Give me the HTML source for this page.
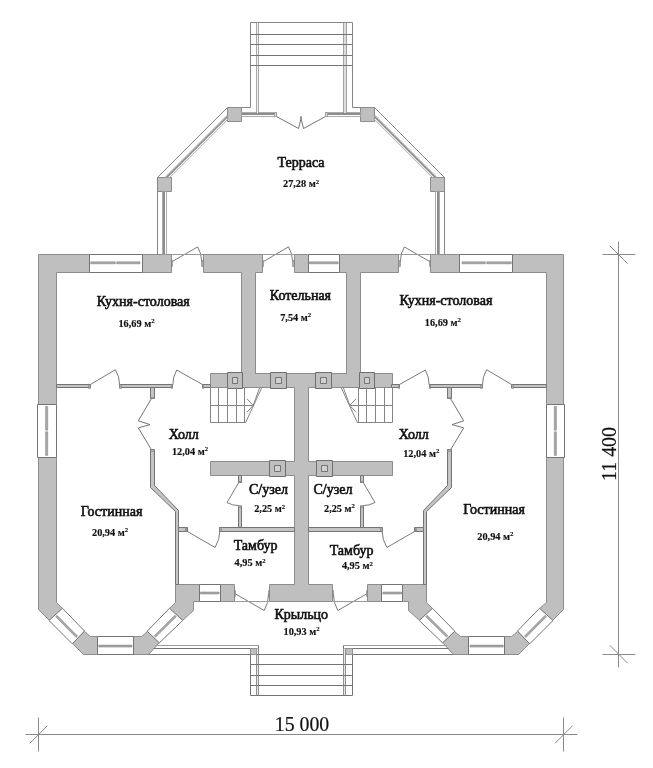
<!DOCTYPE html>
<html lang="ru"><head><meta charset="utf-8"><title>План</title>
<style>
html,body{margin:0;padding:0;background:#fff;overflow:hidden;}
svg{display:block;}
text{font-family:"Liberation Serif",serif;fill:#111;stroke:#111;stroke-width:0.6px;}
text.a{stroke-width:0.15px;}
text.d{stroke-width:0.2px;}
svg{filter:grayscale(1);}
</style></head><body>
<svg width="653" height="768" viewBox="0 0 653 768">
<rect width="653" height="768" fill="#fff"/>
<polygon points="38.5,254.5 89.5,254.5 89.5,272.5 56.5,272.5 56.5,404.5 38.5,404.5" fill="#bfbfbf" stroke="#8c8c8c" stroke-width="1"/>
<polygon points="563.5,254.5 512.5,254.5 512.5,272.5 546.5,272.5 546.5,404.5 563.5,404.5" fill="#bfbfbf" stroke="#8c8c8c" stroke-width="1"/>
<polygon points="38.5,457.5 56.5,457.5 56.5,602.5 62.5,608.5 49.5,620.5 38.5,609.5" fill="#bfbfbf" stroke="#8c8c8c" stroke-width="1"/>
<polygon points="563.5,457.5 546.5,457.5 546.5,602.5 539.5,608.5 552.5,620.5 563.5,609.5" fill="#bfbfbf" stroke="#8c8c8c" stroke-width="1"/>
<polygon points="84.5,631.5 90.5,636.5 97.5,636.5 97.5,654.5 83.5,654.5 72.5,643.5" fill="#bfbfbf" stroke="#8c8c8c" stroke-width="1"/>
<polygon points="517.5,631.5 511.5,636.5 504.5,636.5 504.5,654.5 518.5,654.5 529.5,643.5" fill="#bfbfbf" stroke="#8c8c8c" stroke-width="1"/>
<polygon points="133.5,636.5 141.5,636.5 147.5,631.5 159.5,642.5 148.5,654.5 133.5,654.5" fill="#bfbfbf" stroke="#8c8c8c" stroke-width="1"/>
<polygon points="468.5,636.5 460.5,636.5 454.5,631.5 442.5,642.5 453.5,654.5 468.5,654.5" fill="#bfbfbf" stroke="#8c8c8c" stroke-width="1"/>
<polygon points="175.5,584.5 199.5,584.5 199.5,601.5 193.5,601.5 193.5,610.5 182.5,620.5 169.5,608.5 175.5,602.5" fill="#bfbfbf" stroke="#8c8c8c" stroke-width="1"/>
<polygon points="426.5,584.5 402.5,584.5 402.5,601.5 408.5,601.5 408.5,610.5 419.5,620.5 432.5,608.5 426.5,602.5" fill="#bfbfbf" stroke="#8c8c8c" stroke-width="1"/>
<polygon points="142.5,254.5 171.5,254.5 171.5,272.5 142.5,272.5" fill="#bfbfbf" stroke="#8c8c8c" stroke-width="1"/>
<polygon points="459.5,254.5 430.5,254.5 430.5,272.5 459.5,272.5" fill="#bfbfbf" stroke="#8c8c8c" stroke-width="1"/>
<polygon points="203.5,254.5 262.5,254.5 262.5,272.5 255.5,272.5 255.5,373.5 241.5,373.5 241.5,272.5 203.5,272.5" fill="#bfbfbf" stroke="#8c8c8c" stroke-width="1"/>
<polygon points="398.5,254.5 339.5,254.5 339.5,272.5 346.5,272.5 346.5,373.5 360.5,373.5 360.5,272.5 398.5,272.5" fill="#bfbfbf" stroke="#8c8c8c" stroke-width="1"/>
<polygon points="294.5,254.5 308.5,254.5 308.5,272.5 294.5,272.5" fill="#bfbfbf" stroke="#8c8c8c" stroke-width="1"/>
<polygon points="220.5,584.5 234.5,584.5 234.5,601.5 220.5,601.5" fill="#bfbfbf" stroke="#8c8c8c" stroke-width="1"/>
<polygon points="381.5,584.5 367.5,584.5 367.5,601.5 381.5,601.5" fill="#bfbfbf" stroke="#8c8c8c" stroke-width="1"/>
<polygon points="269.5,584.5 294.5,584.5 294.5,475.5 210.5,475.5 210.5,461.5 294.5,461.5 294.5,387.5 210.5,387.5 210.5,373.5 392.5,373.5 392.5,387.5 308.5,387.5 308.5,461.5 392.5,461.5 392.5,475.5 308.5,475.5 308.5,584.5 332.5,584.5 332.5,601.5 269.5,601.5" fill="#bfbfbf" stroke="#8c8c8c" stroke-width="1"/>
<polygon points="242.1,372.0 255.0,372.0 255.0,375.2 242.1,375.2" fill="#bfbfbf" stroke="none" stroke-width="1"/>
<polygon points="359.9,372.0 347.0,372.0 347.0,375.2 359.9,375.2" fill="#bfbfbf" stroke="none" stroke-width="1"/>
<polygon points="227.5,372.5 242.5,372.5 242.5,388.5 227.5,388.5" fill="#bfbfbf" stroke="#6e6e6e" stroke-width="1"/>
<polygon points="374.5,372.5 359.5,372.5 359.5,388.5 374.5,388.5" fill="#bfbfbf" stroke="#6e6e6e" stroke-width="1"/>
<polygon points="232.5,377.5 237.5,377.5 237.5,383.5 232.5,383.5" fill="#d0d0d0" stroke="#747474" stroke-width="1"/>
<polygon points="369.5,377.5 364.5,377.5 364.5,383.5 369.5,383.5" fill="#d0d0d0" stroke="#747474" stroke-width="1"/>
<polygon points="270.5,372.5 286.5,372.5 286.5,388.5 270.5,388.5" fill="#bfbfbf" stroke="#6e6e6e" stroke-width="1"/>
<polygon points="331.5,372.5 315.5,372.5 315.5,388.5 331.5,388.5" fill="#bfbfbf" stroke="#6e6e6e" stroke-width="1"/>
<polygon points="275.5,377.5 281.5,377.5 281.5,383.5 275.5,383.5" fill="#d0d0d0" stroke="#747474" stroke-width="1"/>
<polygon points="326.5,377.5 320.5,377.5 320.5,383.5 326.5,383.5" fill="#d0d0d0" stroke="#747474" stroke-width="1"/>
<polygon points="269.5,460.5 285.5,460.5 285.5,476.5 269.5,476.5" fill="#bfbfbf" stroke="#6e6e6e" stroke-width="1"/>
<polygon points="332.5,460.5 316.5,460.5 316.5,476.5 332.5,476.5" fill="#bfbfbf" stroke="#6e6e6e" stroke-width="1"/>
<polygon points="274.5,465.5 280.5,465.5 280.5,471.5 274.5,471.5" fill="#d0d0d0" stroke="#747474" stroke-width="1"/>
<polygon points="327.5,465.5 321.5,465.5 321.5,471.5 327.5,471.5" fill="#d0d0d0" stroke="#747474" stroke-width="1"/>
<polygon points="89.5,254.5 142.5,254.5 142.5,272.5 89.5,272.5" fill="#fff" stroke="#747474" stroke-width="1"/>
<polygon points="512.5,254.5 459.5,254.5 459.5,272.5 512.5,272.5" fill="#fff" stroke="#747474" stroke-width="1"/>
<polygon points="90.7,261.8 115.3,261.8 115.3,263.8 90.7,263.8" fill="#a8a8a8" stroke="#7c7c7c" stroke-width="0.5"/>
<polygon points="511.3,261.8 486.7,261.8 486.7,263.8 511.3,263.8" fill="#a8a8a8" stroke="#7c7c7c" stroke-width="0.5"/>
<polygon points="116.7,261.8 140.0,261.8 140.0,263.8 116.7,263.8" fill="#a8a8a8" stroke="#7c7c7c" stroke-width="0.5"/>
<polygon points="485.3,261.8 462.0,261.8 462.0,263.8 485.3,263.8" fill="#a8a8a8" stroke="#7c7c7c" stroke-width="0.5"/>
<polygon points="97.5,636.5 133.5,636.5 133.5,654.5 97.5,654.5" fill="#fff" stroke="#747474" stroke-width="1"/>
<polygon points="504.5,636.5 468.5,636.5 468.5,654.5 504.5,654.5" fill="#fff" stroke="#747474" stroke-width="1"/>
<polygon points="98.8,645.1 131.9,645.1 131.9,647.1 98.8,647.1" fill="#a8a8a8" stroke="#7c7c7c" stroke-width="0.5"/>
<polygon points="503.2,645.1 470.1,645.1 470.1,647.1 503.2,647.1" fill="#a8a8a8" stroke="#7c7c7c" stroke-width="0.5"/>
<polygon points="199.5,584.5 220.5,584.5 220.5,601.5 199.5,601.5" fill="#fff" stroke="#747474" stroke-width="1"/>
<polygon points="402.5,584.5 381.5,584.5 381.5,601.5 402.5,601.5" fill="#fff" stroke="#747474" stroke-width="1"/>
<polygon points="200.5,592.0 219.1,592.0 219.1,594.0 200.5,594.0" fill="#a8a8a8" stroke="#7c7c7c" stroke-width="0.5"/>
<polygon points="401.5,592.0 382.9,592.0 382.9,594.0 401.5,594.0" fill="#a8a8a8" stroke="#7c7c7c" stroke-width="0.5"/>
<polygon points="308.5,254.5 339.5,254.5 339.5,272.5 308.5,272.5" fill="#fff" stroke="#747474" stroke-width="1"/>
<polygon points="309.5,261.8 338.1,261.8 338.1,263.8 309.5,263.8" fill="#a8a8a8" stroke="#7c7c7c" stroke-width="0.5"/>
<polygon points="37.5,404.5 56.5,404.5 56.5,457.5 37.5,457.5" fill="#fff" stroke="#747474" stroke-width="1"/>
<polygon points="564.5,404.5 546.5,404.5 546.5,457.5 564.5,457.5" fill="#fff" stroke="#747474" stroke-width="1"/>
<polygon points="45.6,406.4 47.7,406.4 47.7,430.2 45.6,430.2" fill="#a8a8a8" stroke="#7c7c7c" stroke-width="0.5"/>
<polygon points="556.4,406.4 554.3,406.4 554.3,430.2 556.4,430.2" fill="#a8a8a8" stroke="#7c7c7c" stroke-width="0.5"/>
<polygon points="45.6,431.8 47.7,431.8 47.7,455.4 45.6,455.4" fill="#a8a8a8" stroke="#7c7c7c" stroke-width="0.5"/>
<polygon points="556.4,431.8 554.3,431.8 554.3,455.4 556.4,455.4" fill="#a8a8a8" stroke="#7c7c7c" stroke-width="0.5"/>
<polygon points="62.5,608.3 49.0,620.5 72.3,643.8 84.5,631.0" fill="#fff" stroke="#747474" stroke-width="1"/>
<polygon points="539.5,608.3 553.0,620.5 529.7,643.8 517.5,631.0" fill="#fff" stroke="#747474" stroke-width="1"/>
<polygon points="55.6,616.7 76.1,637.5 77.6,636.1 57.0,615.3" fill="#a8a8a8" stroke="#7c7c7c" stroke-width="0.5"/>
<polygon points="546.5,616.7 525.9,637.5 524.4,636.1 545.0,615.3" fill="#a8a8a8" stroke="#7c7c7c" stroke-width="0.5"/>
<polygon points="147.2,631.2 159.4,642.8 182.7,620.5 169.5,608.3" fill="#fff" stroke="#747474" stroke-width="1"/>
<polygon points="454.8,631.2 442.6,642.8 419.3,620.5 432.5,608.3" fill="#fff" stroke="#747474" stroke-width="1"/>
<polygon points="155.6,637.1 176.3,616.7 174.9,615.2 154.2,635.7" fill="#a8a8a8" stroke="#7c7c7c" stroke-width="0.5"/>
<polygon points="446.4,637.1 425.7,616.7 427.1,615.2 447.9,635.7" fill="#a8a8a8" stroke="#7c7c7c" stroke-width="0.5"/>
<polygon points="56.5,384.5 90.5,384.5 90.5,387.5 56.5,387.5" fill="#c4c4c4" stroke="#747474" stroke-width="1"/>
<polygon points="546.5,384.5 511.5,384.5 511.5,387.5 546.5,387.5" fill="#c4c4c4" stroke="#747474" stroke-width="1"/>
<polygon points="119.5,384.5 172.5,384.5 172.5,387.5 119.5,387.5" fill="#c4c4c4" stroke="#747474" stroke-width="1"/>
<polygon points="482.5,384.5 429.5,384.5 429.5,387.5 482.5,387.5" fill="#c4c4c4" stroke="#747474" stroke-width="1"/>
<polygon points="202.5,384.5 210.5,384.5 210.5,387.5 202.5,387.5" fill="#c4c4c4" stroke="#747474" stroke-width="1"/>
<polygon points="399.5,384.5 391.5,384.5 391.5,387.5 399.5,387.5" fill="#c4c4c4" stroke="#747474" stroke-width="1"/>
<polygon points="150.5,387.5 154.5,387.5 154.5,398.5 150.5,398.5" fill="#c4c4c4" stroke="#747474" stroke-width="1"/>
<polygon points="451.5,387.5 447.5,387.5 447.5,398.5 451.5,398.5" fill="#c4c4c4" stroke="#747474" stroke-width="1"/>
<polygon points="150.5,449.5 154.5,449.5 154.5,485.5 178.5,510.5 178.5,584.5 175.5,584.5 175.5,511.5 150.5,487.5" fill="#c4c4c4" stroke="#747474" stroke-width="1"/>
<polygon points="451.5,449.5 447.5,449.5 447.5,485.5 423.5,510.5 423.5,584.5 426.5,584.5 426.5,511.5 451.5,487.5" fill="#c4c4c4" stroke="#747474" stroke-width="1"/>
<polygon points="178.5,527.5 187.5,527.5 187.5,531.5 178.5,531.5" fill="#c4c4c4" stroke="#747474" stroke-width="1"/>
<polygon points="423.5,527.5 414.5,527.5 414.5,531.5 423.5,531.5" fill="#c4c4c4" stroke="#747474" stroke-width="1"/>
<polygon points="219.5,527.5 294.5,527.5 294.5,531.5 219.5,531.5" fill="#c4c4c4" stroke="#747474" stroke-width="1"/>
<polygon points="308.5,527.5 382.5,527.5 382.5,531.5 308.5,531.5" fill="#c4c4c4" stroke="#747474" stroke-width="1"/>
<polygon points="238.5,475.5 241.5,475.5 241.5,482.5 238.5,482.5" fill="#c4c4c4" stroke="#747474" stroke-width="1"/>
<polygon points="363.5,475.5 360.5,475.5 360.5,482.5 363.5,482.5" fill="#c4c4c4" stroke="#747474" stroke-width="1"/>
<polygon points="238.5,506.5 241.5,506.5 241.5,527.5 238.5,527.5" fill="#c4c4c4" stroke="#747474" stroke-width="1"/>
<polygon points="363.5,506.5 360.5,506.5 360.5,527.5 363.5,527.5" fill="#c4c4c4" stroke="#747474" stroke-width="1"/>
<path d="M90.3 384.6 L115.4 369.7 A29.2 29.2 0 0 1 119.6 384.6" fill="none" stroke="#7a7a7a" stroke-width="1"/>
<path d="M511.7 384.6 L486.6 369.7 A29.2 29.2 0 0 0 482.4 384.6" fill="none" stroke="#7a7a7a" stroke-width="1"/>
<polygon points="88.5,384.5 90.5,384.5 90.5,388.5 88.5,388.5" fill="#aaa" stroke="#747474" stroke-width="0.5"/>
<polygon points="513.5,384.5 511.5,384.5 511.5,388.5 513.5,388.5" fill="#aaa" stroke="#747474" stroke-width="0.5"/>
<polygon points="119.5,384.5 121.5,384.5 121.5,388.5 119.5,388.5" fill="#aaa" stroke="#747474" stroke-width="0.5"/>
<polygon points="482.5,384.5 480.5,384.5 480.5,388.5 482.5,388.5" fill="#aaa" stroke="#747474" stroke-width="0.5"/>
<path d="M203.0 384.8 L176.7 370.0 A30.2 30.2 0 0 0 172.8 384.8" fill="none" stroke="#7a7a7a" stroke-width="1"/>
<path d="M399.0 384.8 L425.3 370.0 A30.2 30.2 0 0 1 429.2 384.8" fill="none" stroke="#7a7a7a" stroke-width="1"/>
<polygon points="171.5,384.5 172.5,384.5 172.5,388.5 171.5,388.5" fill="#aaa" stroke="#747474" stroke-width="0.5"/>
<polygon points="430.5,384.5 429.5,384.5 429.5,388.5 430.5,388.5" fill="#aaa" stroke="#747474" stroke-width="0.5"/>
<polygon points="202.5,384.5 203.5,384.5 203.5,388.5 202.5,388.5" fill="#aaa" stroke="#747474" stroke-width="0.5"/>
<polygon points="399.5,384.5 398.5,384.5 398.5,388.5 399.5,388.5" fill="#aaa" stroke="#747474" stroke-width="0.5"/>
<path d="M172.0 261.7 L197.7 246.9 A29.7 29.7 0 0 1 201.7 261.7" fill="none" stroke="#7a7a7a" stroke-width="1"/>
<path d="M430.0 261.7 L404.3 246.9 A29.7 29.7 0 0 0 400.3 261.7" fill="none" stroke="#7a7a7a" stroke-width="1"/>
<polyline points="171.5,254.5 203.5,254.5" fill="none" stroke="#9a9a9a" stroke-width="1"/>
<polyline points="430.5,254.5 398.5,254.5" fill="none" stroke="#9a9a9a" stroke-width="1"/>
<polygon points="171.5,260.5 172.5,260.5 172.5,266.5 171.5,266.5" fill="#aaa" stroke="#747474" stroke-width="0.5"/>
<polygon points="430.5,260.5 429.5,260.5 429.5,266.5 430.5,266.5" fill="#aaa" stroke="#747474" stroke-width="0.5"/>
<polygon points="201.5,260.5 203.5,260.5 203.5,266.5 201.5,266.5" fill="#aaa" stroke="#747474" stroke-width="0.5"/>
<polygon points="400.5,260.5 398.5,260.5 398.5,266.5 400.5,266.5" fill="#aaa" stroke="#747474" stroke-width="0.5"/>
<path d="M263.3 261.7 L288.5 246.8 A29.3 29.3 0 0 1 292.6 261.7" fill="none" stroke="#7a7a7a" stroke-width="1"/>
<polyline points="262.5,254.5 294.5,254.5" fill="none" stroke="#9a9a9a" stroke-width="1"/>
<polygon points="262.5,260.5 263.5,260.5 263.5,266.5 262.5,266.5" fill="#aaa" stroke="#747474" stroke-width="0.5"/>
<polygon points="292.5,260.5 294.5,260.5 294.5,266.5 292.5,266.5" fill="#aaa" stroke="#747474" stroke-width="0.5"/>
<polyline points="151.2,399.0 138.3,420.8 150.0,424.6 138.3,427.9 151.2,449.4" fill="none" stroke="#747474" stroke-width="1"/>
<polyline points="450.8,399.0 463.7,420.8 452.0,424.6 463.7,427.9 450.8,449.4" fill="none" stroke="#747474" stroke-width="1"/>
<polygon points="150.5,397.5 154.5,397.5 154.5,398.5 150.5,398.5" fill="#aaa" stroke="#747474" stroke-width="0.5"/>
<polygon points="451.5,397.5 447.5,397.5 447.5,398.5 451.5,398.5" fill="#aaa" stroke="#747474" stroke-width="0.5"/>
<polygon points="150.5,449.5 154.5,449.5 154.5,451.5 150.5,451.5" fill="#aaa" stroke="#747474" stroke-width="0.5"/>
<polygon points="451.5,449.5 447.5,449.5 447.5,451.5 451.5,451.5" fill="#aaa" stroke="#747474" stroke-width="0.5"/>
<path d="M186.6 531.0 L215.1 547.5 A32.9 32.9 0 0 0 219.9 531.0" fill="none" stroke="#7a7a7a" stroke-width="1"/>
<path d="M415.4 531.0 L386.9 547.5 A32.9 32.9 0 0 1 382.1 531.0" fill="none" stroke="#7a7a7a" stroke-width="1"/>
<polygon points="185.5,527.5 186.5,527.5 186.5,531.5 185.5,531.5" fill="#aaa" stroke="#747474" stroke-width="0.5"/>
<polygon points="416.5,527.5 415.5,527.5 415.5,531.5 416.5,531.5" fill="#aaa" stroke="#747474" stroke-width="0.5"/>
<polygon points="219.5,527.5 221.5,527.5 221.5,531.5 219.5,531.5" fill="#aaa" stroke="#747474" stroke-width="0.5"/>
<polygon points="382.5,527.5 380.5,527.5 380.5,531.5 382.5,531.5" fill="#aaa" stroke="#747474" stroke-width="0.5"/>
<path d="M238.8 482.4 L227.0 502.5 A23.3 23.3 0 0 0 238.8 505.6" fill="none" stroke="#7a7a7a" stroke-width="1"/>
<path d="M363.2 482.4 L375.0 502.5 A23.3 23.3 0 0 1 363.2 505.6" fill="none" stroke="#7a7a7a" stroke-width="1"/>
<polygon points="238.5,481.5 241.5,481.5 241.5,482.5 238.5,482.5" fill="#aaa" stroke="#747474" stroke-width="0.5"/>
<polygon points="363.5,481.5 360.5,481.5 360.5,482.5 363.5,482.5" fill="#aaa" stroke="#747474" stroke-width="0.5"/>
<polygon points="238.5,505.5 241.5,505.5 241.5,507.5 238.5,507.5" fill="#aaa" stroke="#747474" stroke-width="0.5"/>
<polygon points="363.5,505.5 360.5,505.5 360.5,507.5 363.5,507.5" fill="#aaa" stroke="#747474" stroke-width="0.5"/>
<path d="M235.4 593.9 L264.2 610.5 A33.2 33.2 0 0 0 268.6 593.9" fill="none" stroke="#7a7a7a" stroke-width="1"/>
<path d="M366.6 593.9 L337.8 610.5 A33.2 33.2 0 0 1 333.4 593.9" fill="none" stroke="#7a7a7a" stroke-width="1"/>
<polyline points="234.5,601.5 269.5,601.5" fill="none" stroke="#9a9a9a" stroke-width="1"/>
<polyline points="367.5,601.5 332.5,601.5" fill="none" stroke="#9a9a9a" stroke-width="1"/>
<polygon points="234.5,590.5 235.5,590.5 235.5,596.5 234.5,596.5" fill="#aaa" stroke="#747474" stroke-width="0.5"/>
<polygon points="367.5,590.5 366.5,590.5 366.5,596.5 367.5,596.5" fill="#aaa" stroke="#747474" stroke-width="0.5"/>
<polygon points="268.5,590.5 269.5,590.5 269.5,596.5 268.5,596.5" fill="#aaa" stroke="#747474" stroke-width="0.5"/>
<polygon points="333.5,590.5 332.5,590.5 332.5,596.5 333.5,596.5" fill="#aaa" stroke="#747474" stroke-width="0.5"/>
<polyline points="276.5,116.5 298.5,128.5 301.5,116.5" fill="none" stroke="#747474" stroke-width="1"/>
<polyline points="325.5,116.5 303.5,128.5 300.5,116.5" fill="none" stroke="#747474" stroke-width="1"/>
<polyline points="210.5,387.5 210.5,422.5 245.5,422.5" fill="none" stroke="#858585" stroke-width="1"/>
<polyline points="392.5,387.5 392.5,422.5 357.5,422.5" fill="none" stroke="#858585" stroke-width="1"/>
<polyline points="218.5,387.5 218.5,422.5" fill="none" stroke="#858585" stroke-width="1"/>
<polyline points="384.5,387.5 384.5,422.5" fill="none" stroke="#858585" stroke-width="1"/>
<polyline points="227.5,387.5 227.5,422.5" fill="none" stroke="#858585" stroke-width="1"/>
<polyline points="375.5,387.5 375.5,422.5" fill="none" stroke="#858585" stroke-width="1"/>
<polyline points="236.5,387.5 236.5,422.5" fill="none" stroke="#858585" stroke-width="1"/>
<polyline points="366.5,387.5 366.5,422.5" fill="none" stroke="#858585" stroke-width="1"/>
<polyline points="244.5,387.5 244.5,422.5" fill="none" stroke="#858585" stroke-width="1"/>
<polyline points="358.5,387.5 358.5,422.5" fill="none" stroke="#858585" stroke-width="1"/>
<polyline points="210.5,405.5 253.5,405.5" fill="none" stroke="#858585" stroke-width="1"/>
<polyline points="392.5,405.5 349.5,405.5" fill="none" stroke="#858585" stroke-width="1"/>
<polyline points="261.8,387.6 245.5,422.9" fill="none" stroke="#858585" stroke-width="1"/>
<polyline points="341.2,387.6 357.5,422.9" fill="none" stroke="#858585" stroke-width="1"/>
<polyline points="259.7,387.6 253.2,405.4" fill="none" stroke="#858585" stroke-width="1"/>
<polyline points="343.3,387.6 349.8,405.4" fill="none" stroke="#858585" stroke-width="1"/>
<polyline points="247.0,398.8 253.2,405.4 247.0,412.2" fill="none" stroke="#858585" stroke-width="1"/>
<polyline points="356.0,398.8 349.8,405.4 356.0,412.2" fill="none" stroke="#858585" stroke-width="1"/>
<polygon points="227.5,107.5 241.5,107.5 241.5,121.5 227.5,121.5" fill="#bfbfbf" stroke="#8c8c8c" stroke-width="1"/>
<polygon points="374.5,107.5 360.5,107.5 360.5,121.5 374.5,121.5" fill="#bfbfbf" stroke="#8c8c8c" stroke-width="1"/>
<polygon points="157.5,177.5 171.5,177.5 171.5,191.5 157.5,191.5" fill="#bfbfbf" stroke="#8c8c8c" stroke-width="1"/>
<polygon points="444.5,177.5 430.5,177.5 430.5,191.5 444.5,191.5" fill="#bfbfbf" stroke="#8c8c8c" stroke-width="1"/>
<polyline points="157.5,254.5 157.5,177.5 227.5,107.5" fill="none" stroke="#858585" stroke-width="1"/>
<polyline points="444.5,254.5 444.5,177.5 374.5,107.5" fill="none" stroke="#858585" stroke-width="1"/>
<polyline points="241.5,107.5 250.5,107.5 250.5,22.5 352.5,22.5 352.5,107.5 360.5,107.5" fill="none" stroke="#858585" stroke-width="1"/>
<polygon points="162.5,191.5 166.5,191.5 166.5,254.5 162.5,254.5" fill="#fff" stroke="#949494" stroke-width="0.8"/>
<polygon points="439.5,191.5 435.5,191.5 435.5,254.5 439.5,254.5" fill="#fff" stroke="#949494" stroke-width="0.8"/>
<polygon points="163.0,191.5 165.0,191.5 165.0,254.5 163.0,254.5" fill="#8c8c8c" stroke="none" stroke-width="1"/>
<polygon points="439.0,191.5 437.0,191.5 437.0,254.5 439.0,254.5" fill="#8c8c8c" stroke="none" stroke-width="1"/>
<polygon points="164.9,177.5 227.5,114.9 227.5,119.7 169.7,177.5" fill="#fff" stroke="#949494" stroke-width="0.8"/>
<polygon points="437.1,177.5 374.5,114.9 374.5,119.7 432.3,177.5" fill="#fff" stroke="#949494" stroke-width="0.8"/>
<polygon points="165.4,177.5 227.5,115.4 227.5,117.8 167.8,177.5" fill="#8c8c8c" stroke="none" stroke-width="0"/>
<polygon points="436.6,177.5 374.5,115.4 374.5,117.8 434.2,177.5" fill="#8c8c8c" stroke="none" stroke-width="0"/>
<polygon points="241.5,112.5 276.5,112.5 276.5,116.5 241.5,116.5" fill="#fff" stroke="#949494" stroke-width="0.8"/>
<polygon points="360.5,112.5 325.5,112.5 325.5,116.5 360.5,116.5" fill="#fff" stroke="#949494" stroke-width="0.8"/>
<polygon points="241.5,113.0 276.5,113.0 276.5,115.0 241.5,115.0" fill="#8c8c8c" stroke="none" stroke-width="1"/>
<polygon points="360.5,113.0 325.5,113.0 325.5,115.0 360.5,115.0" fill="#8c8c8c" stroke="none" stroke-width="1"/>
<polygon points="274.5,112.5 276.5,112.5 276.5,116.5 274.5,116.5" fill="#ddd" stroke="#949494" stroke-width="0.8"/>
<polygon points="327.5,112.5 325.5,112.5 325.5,116.5 327.5,116.5" fill="#ddd" stroke="#949494" stroke-width="0.8"/>
<polygon points="256.5,22.5 258.5,22.5 258.5,113.5 256.5,113.5" fill="#f0f0f0" stroke="#747474" stroke-width="0.6"/>
<polygon points="343.5,22.5 346.5,22.5 346.5,113.5 343.5,113.5" fill="#ddd" stroke="#747474" stroke-width="0.6"/>
<polyline points="250.5,34.5 352.5,34.5" fill="none" stroke="#747474" stroke-width="1"/>
<polyline points="250.5,44.5 352.5,44.5" fill="none" stroke="#747474" stroke-width="1"/>
<polyline points="250.5,55.5 352.5,55.5" fill="none" stroke="#747474" stroke-width="1"/>
<polyline points="250.5,65.5 352.5,65.5" fill="none" stroke="#747474" stroke-width="1"/>
<polyline points="155.5,645.5 258.5,645.5" fill="none" stroke="#9a9a9a" stroke-width="1"/>
<polyline points="258.5,645.5 258.5,695.5" fill="none" stroke="#747474" stroke-width="1"/>
<polyline points="153.5,648.5 256.5,648.5 256.5,695.5" fill="none" stroke="#747474" stroke-width="1"/>
<polygon points="256.5,648.5 258.5,648.5 258.5,695.5 256.5,695.5" fill="#e6e6e6" stroke="#747474" stroke-width="0.5"/>
<polyline points="148.5,654.5 453.5,654.5" fill="none" stroke="#747474" stroke-width="1"/>
<polyline points="250.5,648.5 250.5,695.5" fill="none" stroke="#747474" stroke-width="1"/>
<polygon points="250.5,648.5 256.5,648.5 256.5,654.5 250.5,654.5" fill="#bfbfbf" stroke="#8c8c8c" stroke-width="0.5"/>
<polyline points="446.5,645.5 343.5,645.5" fill="none" stroke="#9a9a9a" stroke-width="1"/>
<polyline points="343.5,645.5 343.5,695.5" fill="none" stroke="#747474" stroke-width="1"/>
<polyline points="448.5,648.5 345.5,648.5 345.5,695.5" fill="none" stroke="#747474" stroke-width="1"/>
<polygon points="343.5,648.5 345.5,648.5 345.5,695.5 343.5,695.5" fill="#e6e6e6" stroke="#747474" stroke-width="0.5"/>
<polyline points="352.5,648.5 352.5,695.5" fill="none" stroke="#747474" stroke-width="1"/>
<polygon points="346.5,648.5 352.5,648.5 352.5,654.5 346.5,654.5" fill="#bfbfbf" stroke="#8c8c8c" stroke-width="0.5"/>
<polyline points="250.5,664.5 352.5,664.5" fill="none" stroke="#747474" stroke-width="1"/>
<polyline points="250.5,675.5 352.5,675.5" fill="none" stroke="#747474" stroke-width="1"/>
<polyline points="250.5,685.5 352.5,685.5" fill="none" stroke="#747474" stroke-width="1"/>
<polyline points="250.5,695.5 352.5,695.5" fill="none" stroke="#747474" stroke-width="1"/>
<polyline points="25.5,734.5 577.5,734.5" fill="none" stroke="#8a8a8a" stroke-width="1"/>
<polyline points="38.5,717.5 38.5,751.5" fill="none" stroke="#8a8a8a" stroke-width="1"/>
<polyline points="29.8,743.3 47.5,725.6" fill="none" stroke="#8a8a8a" stroke-width="1"/>
<polyline points="563.5,717.5 563.5,751.5" fill="none" stroke="#8a8a8a" stroke-width="1"/>
<polyline points="555.0,743.3 572.7,725.6" fill="none" stroke="#8a8a8a" stroke-width="1"/>
<polyline points="618.5,241.5 618.5,667.5" fill="none" stroke="#8a8a8a" stroke-width="1"/>
<polyline points="602.5,254.5 635.5,254.5" fill="none" stroke="#8a8a8a" stroke-width="1"/>
<polyline points="609.8,245.8 627.7,263.7" fill="none" stroke="#8a8a8a" stroke-width="1"/>
<polyline points="602.5,654.5 635.5,654.5" fill="none" stroke="#8a8a8a" stroke-width="1"/>
<polyline points="609.8,645.3 627.7,663.3" fill="none" stroke="#8a8a8a" stroke-width="1"/>
<text x="301.0" y="167" font-size="14" text-anchor="middle">Терраса</text>
<text x="301.1" y="187.4" font-size="10.3" font-weight="bold" class="a" text-anchor="middle">27,28 м<tspan font-size="6.8" dy="-3.5">2</tspan></text>
<text x="143.3" y="305.5" font-size="14" text-anchor="middle">Кухня-столовая</text>
<text x="136.5" y="326.5" font-size="10.3" font-weight="bold" class="a" text-anchor="middle">16,69 м<tspan font-size="6.8" dy="-3.5">2</tspan></text>
<text x="445.9" y="305.3" font-size="14" text-anchor="middle">Кухня-столовая</text>
<text x="442.9" y="325.8" font-size="10.3" font-weight="bold" class="a" text-anchor="middle">16,69 м<tspan font-size="6.8" dy="-3.5">2</tspan></text>
<text x="300.4" y="299.7" font-size="14" text-anchor="middle">Котельная</text>
<text x="295.7" y="320.5" font-size="10.3" font-weight="bold" class="a" text-anchor="middle">7,54 м<tspan font-size="6.8" dy="-3.5">2</tspan></text>
<text x="183.7" y="438.5" font-size="14" text-anchor="middle">Холл</text>
<text x="190" y="454.8" font-size="10.3" font-weight="bold" class="a" text-anchor="middle">12,04 м<tspan font-size="6.8" dy="-3.5">2</tspan></text>
<text x="413.7" y="438.9" font-size="14" text-anchor="middle">Холл</text>
<text x="421.3" y="456.8" font-size="10.3" font-weight="bold" class="a" text-anchor="middle">12,04 м<tspan font-size="6.8" dy="-3.5">2</tspan></text>
<text x="111.5" y="516.1" font-size="14" text-anchor="middle">Гостинная</text>
<text x="110.1" y="535.6" font-size="10.3" font-weight="bold" class="a" text-anchor="middle">20,94 м<tspan font-size="6.8" dy="-3.5">2</tspan></text>
<text x="494" y="514.2" font-size="14" text-anchor="middle">Гостинная</text>
<text x="495.4" y="539.5" font-size="10.3" font-weight="bold" class="a" text-anchor="middle">20,94 м<tspan font-size="6.8" dy="-3.5">2</tspan></text>
<text x="268.4" y="494.1" font-size="14" text-anchor="middle">С/узел</text>
<text x="269.7" y="512.2" font-size="10.3" font-weight="bold" class="a" text-anchor="middle">2,25 м<tspan font-size="6.8" dy="-3.5">2</tspan></text>
<text x="333" y="494.1" font-size="14" text-anchor="middle">С/узел</text>
<text x="339.5" y="511.5" font-size="10.3" font-weight="bold" class="a" text-anchor="middle">2,25 м<tspan font-size="6.8" dy="-3.5">2</tspan></text>
<text x="255.6" y="549.7" font-size="14" text-anchor="middle">Тамбур</text>
<text x="250.1" y="566.2" font-size="10.3" font-weight="bold" class="a" text-anchor="middle">4,95 м<tspan font-size="6.8" dy="-3.5">2</tspan></text>
<text x="351.6" y="554.6" font-size="14" text-anchor="middle">Тамбур</text>
<text x="357.4" y="569.3" font-size="10.3" font-weight="bold" class="a" text-anchor="middle">4,95 м<tspan font-size="6.8" dy="-3.5">2</tspan></text>
<text x="301.3" y="618.6" font-size="14" text-anchor="middle">Крыльцо</text>
<text x="301.6" y="634.5" font-size="10.3" font-weight="bold" class="a" text-anchor="middle">10,93 м<tspan font-size="6.8" dy="-3.5">2</tspan></text>
<text class="d" x="302" y="731.2" font-size="21.5" text-anchor="middle" textLength="54.5" lengthAdjust="spacingAndGlyphs">15 000</text>
<text class="d" transform="translate(615.8,454.0) rotate(-90)" font-size="21.5" text-anchor="middle" textLength="54" lengthAdjust="spacingAndGlyphs">11 400</text>
</svg>
</body></html>
